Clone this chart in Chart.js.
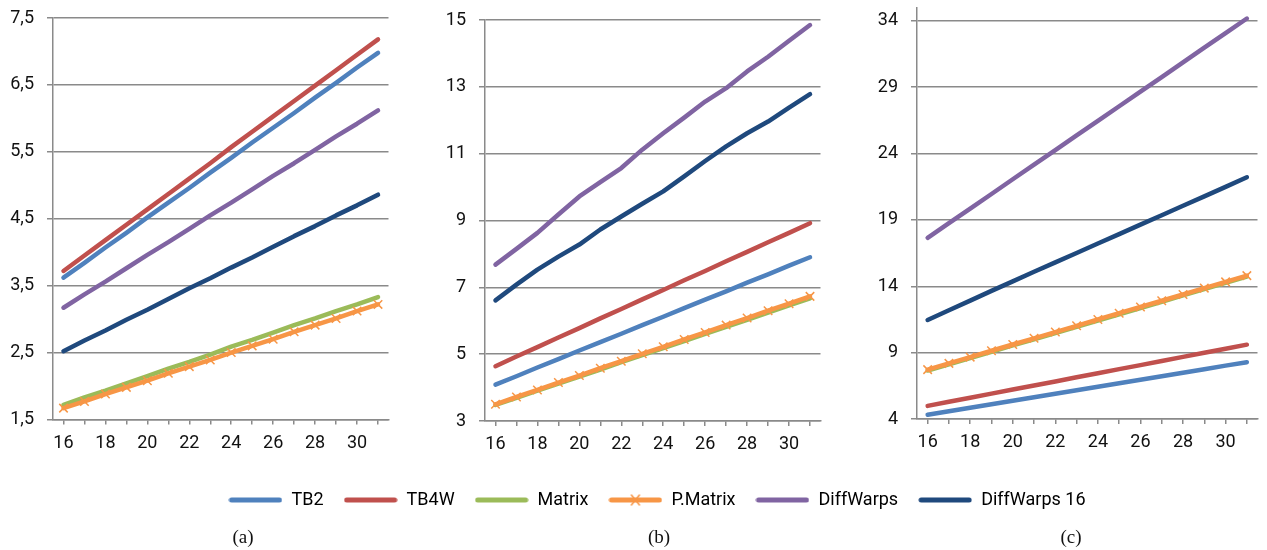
<!DOCTYPE html>
<html>
<head>
<meta charset="utf-8">
<script src="https://cdn.jsdelivr.net/npm/chart.js@4.4.0/dist/chart.umd.min.js"></script>
<style>
  body { margin: 0; background: #fff; width: 1267px; height: 550px; position: relative; overflow: hidden; }
  canvas { position: absolute; }
  .cap { position: absolute; top: 526px; width: 40px; text-align: center; font-family: 'Liberation Serif', serif; font-size: 19px; color: #111; }
</style>
</head>
<body>
<canvas id="chartA" width="396" height="470" style="left:0px;top:0px"></canvas>
<canvas id="chartB" width="408" height="470" style="left:420px;top:0px"></canvas>
<canvas id="chartC" width="425" height="470" style="left:840px;top:0px"></canvas>
<canvas id="legend" width="1180" height="160" style="left:67px;top:471px"></canvas>
<div class="cap" style="left:223px">(a)</div>
<div class="cap" style="left:639px">(b)</div>
<div class="cap" style="left:1051px">(c)</div>
<script>
// Categories (x axis) and series names.
const xLabels = ['16', '17', '18', '19', '20', '21', '22', '23', '24', '25', '26', '27', '28', '29', '30', '31'];
const seriesNames = ['TB2', 'TB4W', 'Matrix', 'P.Matrix', 'DiffWarps', 'DiffWarps 16'];
const seriesColors = ['#4F81BD', '#C0504D', '#9BBB59', '#F79646', '#8064A2', '#1F497D'];

// Panel (a)
const tb2A = [3.62, 3.84, 4.07, 4.29, 4.52, 4.74, 4.96, 5.19, 5.41, 5.64, 5.86, 6.08, 6.31, 6.53, 6.76, 6.98];
const tb4wA = [3.72, 3.95, 4.18, 4.41, 4.64, 4.87, 5.10, 5.33, 5.57, 5.80, 6.03, 6.26, 6.49, 6.72, 6.95, 7.18];
const matrixA = [1.72, 1.83, 1.93, 2.04, 2.15, 2.26, 2.36, 2.47, 2.59, 2.69, 2.80, 2.91, 3.01, 3.12, 3.22, 3.33];
const pMatrixA = [1.67, 1.77, 1.88, 1.98, 2.08, 2.19, 2.29, 2.39, 2.50, 2.60, 2.70, 2.81, 2.91, 3.01, 3.12, 3.22];
const diffWarpsA = [3.17, 3.37, 3.56, 3.76, 3.96, 4.15, 4.35, 4.55, 4.74, 4.94, 5.14, 5.33, 5.53, 5.73, 5.92, 6.12];
const diffWarps16A = [2.52, 2.68, 2.83, 2.99, 3.14, 3.30, 3.46, 3.61, 3.77, 3.92, 4.08, 4.24, 4.39, 4.55, 4.70, 4.86];
const yTicksA = [1.5, 2.5, 3.5, 4.5, 5.5, 6.5, 7.5];

// Panel (b)
const tb2B = [4.09, 4.34, 4.60, 4.85, 5.11, 5.36, 5.61, 5.87, 6.12, 6.38, 6.63, 6.88, 7.14, 7.39, 7.65, 7.90];
const tb4wB = [4.64, 4.93, 5.21, 5.50, 5.78, 6.07, 6.35, 6.64, 6.92, 7.21, 7.49, 7.78, 8.06, 8.35, 8.63, 8.92];
const matrixB = [3.48, 3.69, 3.91, 4.12, 4.33, 4.54, 4.76, 4.97, 5.18, 5.39, 5.61, 5.82, 6.03, 6.24, 6.46, 6.67];
const pMatrixB = [3.50, 3.72, 3.93, 4.15, 4.36, 4.58, 4.79, 5.01, 5.22, 5.44, 5.65, 5.87, 6.08, 6.30, 6.51, 6.73];
const diffWarpsB = [7.68, 8.15, 8.63, 9.18, 9.72, 10.15, 10.57, 11.12, 11.61, 12.08, 12.56, 12.96, 13.46, 13.90, 14.38, 14.85];
const diffWarps16B = [6.61, 7.08, 7.53, 7.92, 8.28, 8.73, 9.12, 9.50, 9.87, 10.32, 10.78, 11.22, 11.61, 11.96, 12.38, 12.78];
const yTicksB = [3, 5, 7, 9, 11, 13, 15];

// Panel (c)
const tb2C = [4.32, 4.58, 4.85, 5.11, 5.38, 5.64, 5.90, 6.17, 6.43, 6.70, 6.96, 7.22, 7.49, 7.75, 8.02, 8.28];
const tb4wC = [4.99, 5.30, 5.60, 5.91, 6.22, 6.53, 6.83, 7.14, 7.45, 7.76, 8.06, 8.37, 8.68, 8.99, 9.29, 9.60];
const matrixC = [7.65, 8.12, 8.59, 9.06, 9.54, 10.01, 10.48, 10.95, 11.42, 11.89, 12.36, 12.83, 13.31, 13.78, 14.25, 14.72];
const pMatrixC = [7.72, 8.19, 8.66, 9.14, 9.61, 10.08, 10.55, 11.02, 11.50, 11.97, 12.44, 12.91, 13.38, 13.86, 14.33, 14.80];
const diffWarpsC = [17.65, 18.75, 19.85, 20.95, 22.06, 23.16, 24.26, 25.36, 26.46, 27.56, 28.66, 29.76, 30.87, 31.97, 33.07, 34.17];
const diffWarps16C = [11.46, 12.19, 12.92, 13.65, 14.37, 15.09, 15.80, 16.51, 17.22, 17.93, 18.64, 19.35, 20.06, 20.77, 21.49, 22.21];
const yTicksC = [4, 9, 14, 19, 24, 29, 34];

const gridGray = '#8a8a8a';
const tickFont = { family: 'Roboto, sans-serif', size: 18 };

function buildDatasets(values) {
  return values.map(function (vals, i) {
    const isP = seriesNames[i] === 'P.Matrix';
    return {
      label: seriesNames[i],
      data: vals,
      borderColor: seriesColors[i],
      backgroundColor: seriesColors[i],
      borderWidth: 4.5,
      borderCapStyle: 'round',
      borderJoinStyle: 'round',
      tension: 0,
      order: values.length - 1 - i, // later series drawn on top
      pointStyle: 'crossRot',
      pointRadius: isP ? 6 : 0,
      pointBorderWidth: 1.5,
      pointBorderColor: seriesColors[i]
    };
  });
}

function makePanel(id, values, yMin, yMax, yTicks, axisWidth, padTop, bottom) {
  const ctx = document.getElementById(id).getContext('2d');
  return new Chart(ctx, {
    type: 'line',
    data: { labels: xLabels, datasets: buildDatasets(values) },
    options: {
      responsive: false,
      animation: false,
      layout: { padding: { top: padTop, left: 0, right: 0, bottom: 0 } },
      plugins: { legend: { display: false }, tooltip: { enabled: false } },
      scales: {
        x: {
          offset: true,
          grid: { drawOnChartArea: false, drawTicks: true, tickLength: 5, color: gridGray, lineWidth: 1.5, offset: false },
          border: { color: gridGray, width: 1.5 },
          ticks: {
            autoSkip: false, maxRotation: 0, padding: 8, color: '#111', font: tickFont,
            callback: function (value, index) { return index % 2 === 0 ? xLabels[index] : ''; }
          },
          afterFit: function (scale) {
            scale.height = 470 - bottom;
            scale.paddingLeft = 0;
            scale.paddingRight = 0;
          }
        },
        y: {
          min: yMin,
          max: yMax,
          grid: { color: gridGray, lineWidth: 1.5, tickLength: 6 },
          border: { color: gridGray, width: 1.5 },
          ticks: {
            padding: 13, color: '#111', font: tickFont,
            callback: function (value) { return String(value).replace('.', ','); }
          },
          afterBuildTicks: function (scale) {
            scale.ticks = yTicks.map(function (v) { return { value: v }; });
          },
          afterFit: function (scale) {
            scale.width = axisWidth;
            scale.paddingTop = 0;
            scale.paddingBottom = 0;
          }
        }
      }
    }
  });
}

makePanel('chartA', [tb2A, tb4wA, matrixA, pMatrixA, diffWarpsA, diffWarps16A], 1.5, 7.5, yTicksA, 53, 18, 419.5);
makePanel('chartB', [tb2B, tb4wB, matrixB, pMatrixB, diffWarpsB, diffWarps16B], 3, 15, yTicksB, 65, 20, 421);
makePanel('chartC', [tb2C, tb4wC, matrixC, pMatrixC, diffWarpsC, diffWarps16C], 4, 35, yTicksC, 77, 2, 419);

// Legend sample: thick line, with a cross for P.Matrix.
function legendSample(color, withCross) {
  const c = document.createElement('canvas');
  c.width = 54;
  c.height = 14;
  const g = c.getContext('2d');
  g.strokeStyle = color;
  g.lineCap = 'round';
  g.lineWidth = 5;
  g.beginPath();
  g.moveTo(3, 7);
  g.lineTo(51, 7);
  g.stroke();
  if (withCross) {
    g.lineWidth = 1.5;
    g.beginPath();
    g.moveTo(23, 2); g.lineTo(31, 12);
    g.moveTo(31, 2); g.lineTo(23, 12);
    g.stroke();
  }
  return c;
}

new Chart(document.getElementById('legend').getContext('2d'), {
  type: 'line',
  data: {
    labels: [],
    datasets: seriesNames.map(function (name, i) {
      return { label: name, data: [], borderColor: seriesColors[i], backgroundColor: seriesColors[i] };
    })
  },
  options: {
    responsive: false,
    animation: false,
    scales: { x: { display: false }, y: { display: false } },
    plugins: {
      tooltip: { enabled: false },
      legend: {
        position: 'top',
        labels: {
          usePointStyle: true,
          pointStyleWidth: 54,
          padding: 20,
          color: '#111',
          font: { family: 'Roboto, sans-serif', size: 18 },
          generateLabels: function () {
            return seriesNames.map(function (name, i) {
              return {
                text: name,
                fillStyle: seriesColors[i],
                strokeStyle: seriesColors[i],
                lineWidth: 0,
                pointStyle: legendSample(seriesColors[i], name === 'P.Matrix'),
                hidden: false,
                datasetIndex: i
              };
            });
          }
        }
      }
    }
  }
});
</script>
</body>
</html>
